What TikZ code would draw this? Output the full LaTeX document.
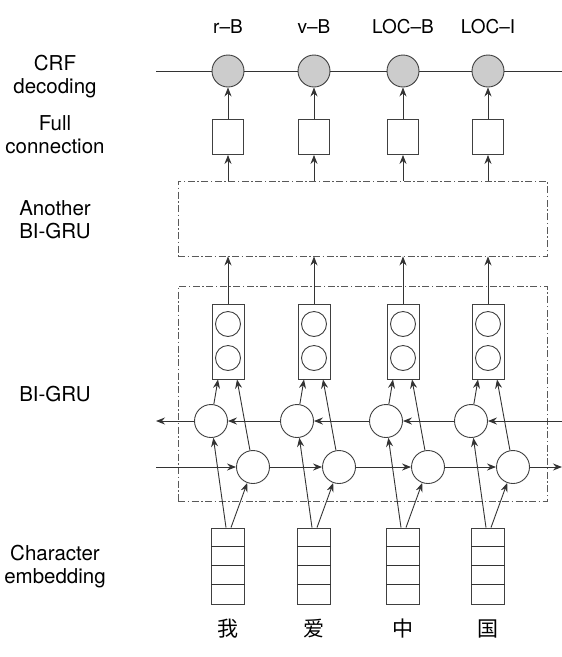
\documentclass[tikz,border=0pt]{standalone}
\usepackage{fontspec}
\setmainfont{TeX Gyre Heros}
\newfontfamily\cjk{Noto Sans CJK SC}
\usetikzlibrary{arrows.meta}

\begin{document}
\begin{tikzpicture}[x=1pt,y=-1pt,line width=0.9pt,
    ln/.style={draw=black!80},
    arr/.style={ln,-{Stealth[length=9pt,width=7pt,inset=3pt]}},
    sidelabel/.style={align=center,font=\fontsize{20.5}{23}\selectfont},
    tagtext/.style={font=\fontsize{19}{22}\selectfont},
    frame/.style={draw=black!65,dash pattern=on 7pt off 2.5pt on 1.5pt off 2.5pt,inner sep=0pt},
    crfnode/.style={circle,draw=black!75,fill=black!20,minimum size=32pt,inner sep=0pt},
    fcbox/.style={draw=black!75,minimum width=31pt,minimum height=35pt,inner sep=0pt},
    stack/.style={draw=black!75,minimum width=32pt,minimum height=75pt,inner sep=0pt},
    unit/.style={circle,draw=black!75,minimum size=25pt,inner sep=0pt},
    cell/.style={circle,draw=black!75,minimum size=33pt,inner sep=0pt},
    emb/.style={draw=black!75,minimum width=32.5pt,minimum height=76pt,inner sep=0pt}]
  \useasboundingbox (0,0) rectangle (562,657);

  % captions on the left
  \node[sidelabel] (tcrf) at (55,77) {CRF\\decoding};
  \node[sidelabel] (tfc) at (55,135) {Full\\connection};
  \node[sidelabel] (tup) at (55,220) {Another\\BI-GRU};
  \node[sidelabel] (tgru) at (55,394) {BI-GRU};
  \node[sidelabel] (temb) at (55,567) {Character\\embedding};

  % the two dash-dot frames
  \node[frame,minimum width=369pt,minimum height=75pt] (upper) at (362.5,218.5) {};
  \node[frame,minimum width=369pt,minimum height=215pt] (lower) at (362.5,393.5) {};

  \foreach \x/\lab/\zi [count=\i] in {228/r–B/我, 314/v–B/爱, 403/LOC–B/中, 488/LOC–I/国} {
    \node[tagtext] (tag\i) at (\x,27) {\lab};
    \node[crfnode] (crf\i) at (\x,71) {};
    \node[fcbox] (fc\i) at (\x,137) {};
    \node[stack] (gru\i) at (\x,341.5) {};
    \node[unit] (hi\i) at (\x,324) {};
    \node[unit] (lo\i) at (\x,358) {};
    \node[cell] (bw\i) at (\x-17,421) {};
    \node[cell] (fw\i) at (\x+25,467) {};
    \node[emb] (emb\i) at (\x,566) {};
    \foreach \k in {1,2,3}
      \draw[ln] ([yshift=-19*\k pt]emb\i.north west) -- ([yshift=-19*\k pt]emb\i.north east);
    \node[font=\cjk\fontsize{21}{21}\selectfont] (zi\i) at (\x,629) {\zi};
    \draw[arr] (fc\i) -- (crf\i);
    \draw[arr] (fc\i |- upper.north) -- (fc\i);
    \draw[arr] (gru\i) -- (gru\i |- upper.south);
    \draw[arr] (bw\i) -- ([xshift=-10pt]gru\i.south);
    \draw[arr] (fw\i) -- ([xshift=9pt]gru\i.south);
    \draw[arr] ([xshift=-2pt]emb\i.north) -- (bw\i);
    \draw[arr] ([xshift=3pt]emb\i.north) -- (fw\i);
  }

  % chains
  \coordinate (crfL) at (156,71);
  \coordinate (crfR) at (562,71);
  \draw[ln] (crfL) -- (crf1) -- (crf2) -- (crf3) -- (crf4) -- (crfR);
  \coordinate (bwL) at (156,421);
  \coordinate (bwR) at (562,421);
  \coordinate (fwL) at (156,467);
  \coordinate (fwR) at (562,467);
  \draw[arr] (bwR) -- (bw4);
  \foreach \a/\b in {4/3,3/2,2/1}
    \draw[arr] (bw\a) -- (bw\b);
  \draw[arr] (bw1) -- (bwL);
  \draw[arr] (fwL) -- (fw1);
  \foreach \a/\b in {1/2,2/3,3/4}
    \draw[arr] (fw\a) -- (fw\b);
  \draw[arr] (fw4) -- (fwR);
\end{tikzpicture}
\end{document}
